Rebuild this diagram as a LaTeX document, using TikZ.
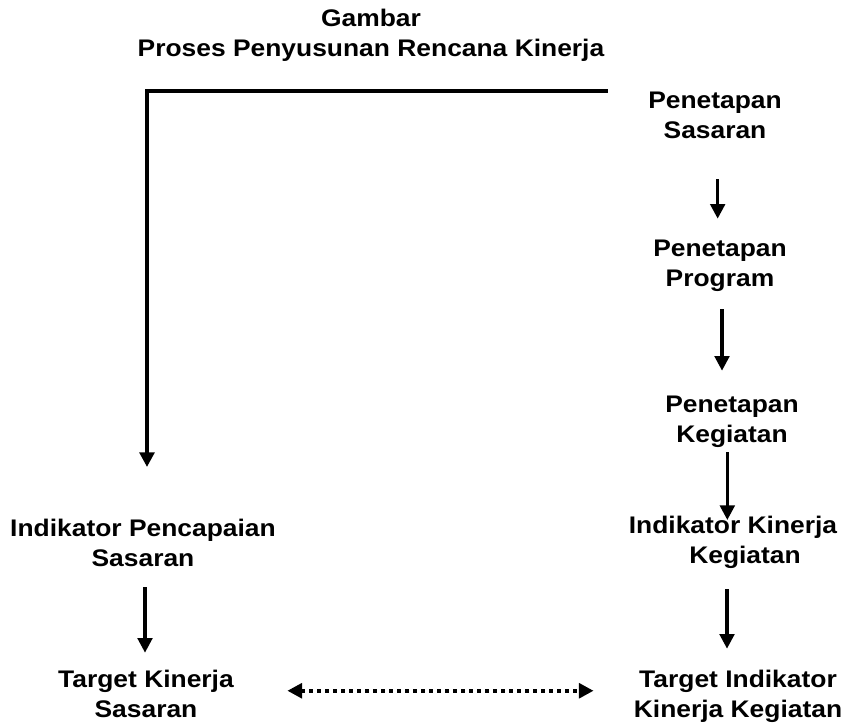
\documentclass[tikz,border=0pt]{standalone}
\usepackage{fontspec}
\setmainfont{Liberation Sans}[FakeStretch=1.1]
\usetikzlibrary{arrows.meta,calc}
\begin{document}
\begin{tikzpicture}[x=0.75pt,y=-0.75pt,
  lbl/.style={font=\bfseries\fontsize{18}{22.5}\selectfont, align=center, inner sep=0pt, anchor=north},
  arr/.style={line width=2.4pt, -{Triangle[length=11pt,width=11pt]}},
  dotarr/.style={line width=3pt, dash pattern=on 3pt off 3pt,
     {Triangle[length=11pt,width=11pt]}-{Triangle[length=11pt,width=11pt]}}]
\path[use as bounding box] (0,0) rectangle (848,726);

\node[lbl] (title) at (371,9) {Gambar\\Proses Penyusunan Rencana Kinerja};

\node[lbl] (ps)   at (715,92)  {Penetapan\\Sasaran};
\node[lbl] (pp)   at (720,240) {Penetapan\\Program};
\node[lbl] (pk)   at (732,396) {Penetapan\\Kegiatan};
\node[lbl] (ikk)  at (733,516) {Indikator Kinerja\\\hspace*{18pt}Kegiatan};
\node[lbl] (tikk) at (738,670) {Target Indikator\\Kinerja Kegiatan};
\node[lbl] (ips)  at (143,519) {Indikator Pencapaian\\Sasaran};
\node[lbl] (tks)  at (146,670) {Target Kinerja\\Sasaran};

% L-shaped connector
\draw[arr, line width=3pt] ([xshift=-30pt,yshift=0.5pt]ps.north west) -| ([xshift=3pt,yshift=39pt]ips.north);

% right column arrows
\draw[arr, shorten <=30pt, shorten >=16pt] ([xshift=2pt]ps.south) -- ([xshift=2pt]ps.south |- pp.north);
\draw[arr, shorten <=13pt, shorten >=19pt] ([xshift=1.5pt]pp.south) -- ([xshift=1.5pt]pp.south |- pk.north);
\draw[arr, shorten <=3pt, shorten >=-3pt] ([xshift=-3.5pt]pk.south) -- ([xshift=-3.5pt]pk.south |- ikk.north);
\draw[arr, shorten <=15pt, shorten >=16pt] ([xshift=-4.5pt]ikk.south) -- ([xshift=-4.5pt]ikk.south |- tikk.north);

% left arrow
\draw[arr, shorten <=15pt, shorten >=13pt] ([xshift=1.5pt]ips.south) -- ([xshift=1.5pt]ips.south |- tks.north);

% dotted double arrow
\draw[dotarr, shorten <=40pt, shorten >=30pt] ([yshift=2.5pt]tks.east) -- ([yshift=2.5pt]tks.east -| tikk.west);
\end{tikzpicture}
\end{document}
